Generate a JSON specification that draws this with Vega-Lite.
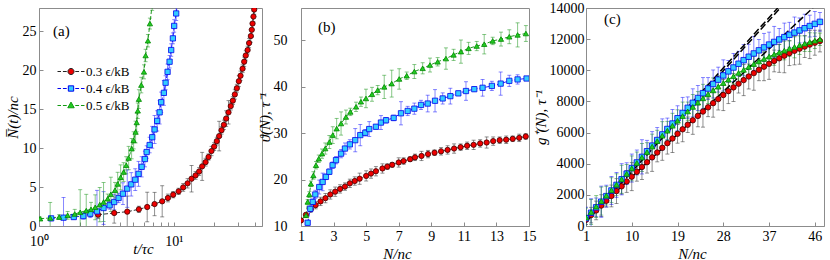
{
  "$schema": "https://vega.github.io/schema/vega-lite/v6.json",
  "padding": {"left": 4, "top": 0, "right": 0, "bottom": 0},
  "spacing": 39,
  "bounds": "flush",
  "config": {
    "font": "Liberation Serif",
    "view": {"stroke": "#8c8c8c", "strokeWidth": 1},
    "style": {"guide-label": {"font": "Liberation Serif"}, "guide-title": {"font": "Liberation Serif"}},
    "axis": {"domainColor": "#8c8c8c", "tickColor": "#8c8c8c", "grid": false, "labelFont": "Liberation Serif", "labelFontSize": 14, "labelColor": "#000", "titleFont": "Liberation Serif", "titleFontSize": 15, "titleFontWeight": "normal", "titleFontStyle": "italic", "titleColor": "#000", "tickSize": -4},
    "axisX": {"labelPadding": 7, "titlePadding": 2, "labelFlush": false},
    "axisY": {"labelPadding": 8, "titlePadding": 2},
    "legend": {"labelFont": "Liberation Serif"},
    "title": {"font": "Liberation Serif", "fontSize": 15, "fontWeight": "normal", "anchor": "start", "frame": "group", "baseline": "alphabetic", "color": "#000"}
  },
  "datasets": {
    "a": [
      {"s":"0.3","x":2.74,"y":1.45,"e":0.5},{"s":"0.3","x":3.61,"y":1.67,"e":1.3},{"s":"0.3","x":4.51,"y":1.84,"e":2.0},{"s":"0.3","x":5.5,"y":2.14,"e":0.4},{"s":"0.3","x":6.34,"y":2.44,"e":1.9},{"s":"0.3","x":7.19,"y":2.82,"e":1.5},{"s":"0.3","x":8.19,"y":3.17,"e":2.0},{"s":"0.3","x":9.03,"y":3.6,"e":0.5},{"s":"0.3","x":9.88,"y":4.02,"e":0.4},{"s":"0.3","x":10.84,"y":4.45,"e":0.4},{"s":"0.3","x":11.72,"y":4.96,"e":0.5},{"s":"0.3","x":12.63,"y":5.48,"e":0.6},{"s":"0.3","x":13.52,"y":6.07,"e":1.7},{"s":"0.3","x":14.48,"y":6.5,"e":0.5},{"s":"0.3","x":15.39,"y":7.0,"e":0.5},{"s":"0.3","x":16.2,"y":7.66,"e":1.8},{"s":"0.3","x":17.17,"y":8.2,"e":0.5},{"s":"0.3","x":18.06,"y":8.86,"e":0.4},{"s":"0.3","x":19.0,"y":9.63,"e":0.6},{"s":"0.3","x":19.89,"y":10.2,"e":0.5},{"s":"0.3","x":20.8,"y":10.9,"e":0.5},{"s":"0.3","x":21.66,"y":11.55,"e":1.9},{"s":"0.3","x":22.55,"y":12.3,"e":0.5},{"s":"0.3","x":23.47,"y":13.0,"e":0.6},{"s":"0.3","x":24.4,"y":13.8,"e":1.0},{"s":"0.3","x":25.4,"y":14.6,"e":1.5},{"s":"0.3","x":26.4,"y":15.4,"e":0.5},{"s":"0.3","x":27.35,"y":16.1,"e":0.5},{"s":"0.3","x":28.3,"y":16.9,"e":0.6},{"s":"0.3","x":29.3,"y":17.7,"e":0.5},{"s":"0.3","x":30.3,"y":18.6,"e":0.7},{"s":"0.3","x":31.2,"y":19.3,"e":0.6},{"s":"0.3","x":32.3,"y":20.2,"e":0.5},{"s":"0.3","x":33.2,"y":21.1,"e":0.6},{"s":"0.3","x":34.1,"y":21.9,"e":0.6},{"s":"0.3","x":35.2,"y":22.6,"e":0.5},{"s":"0.3","x":36.1,"y":23.5,"e":0.6},{"s":"0.3","x":37.2,"y":24.4,"e":0.8},{"s":"0.3","x":37.8,"y":25.2,"e":0.9},{"s":"0.3","x":38.3,"y":26.0,"e":0.8},{"s":"0.3","x":38.9,"y":26.9,"e":0.7},{"s":"0.3","x":39.4,"y":27.8,"e":0.6},{"s":"0.3","x":40.0,"y":28.8,"e":0.6},
      {"s":"0.4","x":1.23,"y":0.98,"e":0.2},{"s":"0.4","x":1.52,"y":1.07,"e":2.6},{"s":"0.4","x":1.81,"y":1.15,"e":0.3},{"s":"0.4","x":2.13,"y":1.28,"e":0.4},{"s":"0.4","x":2.4,"y":1.58,"e":0.5},{"s":"0.4","x":2.69,"y":1.88,"e":2.7},{"s":"0.4","x":3.01,"y":2.31,"e":2.1},{"s":"0.4","x":3.34,"y":2.66,"e":0.5},{"s":"0.4","x":3.61,"y":3.08,"e":1.0},{"s":"0.4","x":3.89,"y":3.6,"e":0.6},{"s":"0.4","x":4.19,"y":4.15,"e":1.4},{"s":"0.4","x":4.51,"y":4.8,"e":2.4},{"s":"0.4","x":4.83,"y":5.35,"e":1.5},{"s":"0.4","x":5.17,"y":5.95,"e":1.4},{"s":"0.4","x":5.47,"y":6.7,"e":1.6},{"s":"0.4","x":5.77,"y":7.6,"e":1.3},{"s":"0.4","x":6.1,"y":8.6,"e":1.0},{"s":"0.4","x":6.28,"y":9.5,"e":0.8},{"s":"0.4","x":6.61,"y":10.4,"e":1.0},{"s":"0.4","x":6.91,"y":11.4,"e":1.4},{"s":"0.4","x":7.19,"y":12.4,"e":1.8},{"s":"0.4","x":7.52,"y":13.5,"e":1.3},{"s":"0.4","x":7.84,"y":14.6,"e":1.5},{"s":"0.4","x":8.05,"y":15.9,"e":1.3},{"s":"0.4","x":8.43,"y":17.1,"e":1.6},{"s":"0.4","x":8.68,"y":18.4,"e":0.9},{"s":"0.4","x":8.98,"y":19.8,"e":1.0},{"s":"0.4","x":9.29,"y":21.1,"e":0.8},{"s":"0.4","x":9.55,"y":22.6,"e":0.8},{"s":"0.4","x":9.83,"y":24.1,"e":0.7},{"s":"0.4","x":10.05,"y":25.7,"e":0.8},{"s":"0.4","x":10.4,"y":27.3,"e":0.9},{"s":"0.4","x":10.7,"y":29.0,"e":0.9},
      {"s":"0.5","x":1.02,"y":0.94,"e":0.2},{"s":"0.5","x":1.21,"y":1.03,"e":2.0},{"s":"0.5","x":1.41,"y":1.15,"e":0.3},{"s":"0.5","x":1.63,"y":1.37,"e":0.5},{"s":"0.5","x":1.84,"y":1.54,"e":0.6},{"s":"0.5","x":2.02,"y":1.76,"e":2.9},{"s":"0.5","x":2.24,"y":1.97,"e":2.1},{"s":"0.5","x":2.43,"y":2.14,"e":0.9},{"s":"0.5","x":2.61,"y":2.4,"e":1.6},{"s":"0.5","x":2.82,"y":2.74,"e":2.2},{"s":"0.5","x":3.01,"y":3.08,"e":2.5},{"s":"0.5","x":3.23,"y":3.5,"e":0.6},{"s":"0.5","x":3.41,"y":4.07,"e":2.2},{"s":"0.5","x":3.66,"y":4.6,"e":1.0},{"s":"0.5","x":3.83,"y":5.4,"e":1.5},{"s":"0.5","x":4.03,"y":6.25,"e":1.6},{"s":"0.5","x":4.24,"y":6.93,"e":1.2},{"s":"0.5","x":4.43,"y":7.8,"e":1.1},{"s":"0.5","x":4.62,"y":8.73,"e":1.5},{"s":"0.5","x":4.86,"y":9.93,"e":1.3},{"s":"0.5","x":5.03,"y":11.0,"e":1.1},{"s":"0.5","x":5.2,"y":12.07,"e":1.4},{"s":"0.5","x":5.3,"y":13.3,"e":1.2},{"s":"0.5","x":5.4,"y":14.8,"e":1.0},{"s":"0.5","x":5.5,"y":16.3,"e":1.2},{"s":"0.5","x":5.73,"y":18.1,"e":1.0},{"s":"0.5","x":6.0,"y":19.8,"e":0.9},{"s":"0.5","x":6.17,"y":21.9,"e":0.8},{"s":"0.5","x":6.42,"y":23.8,"e":0.8},{"s":"0.5","x":6.64,"y":26.0,"e":0.7},{"s":"0.5","x":6.9,"y":28.4,"e":0.7}
    ],
    "b": [
      {"s":"0.3","x":1.0,"y":11.2,"e":0.3},{"s":"0.3","x":1.3,"y":12.4,"e":0.4},{"s":"0.3","x":1.6,"y":13.6,"e":0.6},{"s":"0.3","x":1.9,"y":14.5,"e":0.8},{"s":"0.3","x":2.2,"y":15.3,"e":0.9},{"s":"0.3","x":2.5,"y":16.0,"e":1.0},{"s":"0.3","x":2.8,"y":16.8,"e":1.0},{"s":"0.3","x":3.1,"y":17.4,"e":1.0},{"s":"0.3","x":3.4,"y":18.0,"e":0.9},{"s":"0.3","x":3.7,"y":18.5,"e":0.8},{"s":"0.3","x":4.0,"y":19.2,"e":0.9},{"s":"0.3","x":4.3,"y":19.7,"e":0.9},{"s":"0.3","x":4.6,"y":20.2,"e":1.2},{"s":"0.3","x":5.0,"y":20.8,"e":1.1},{"s":"0.3","x":5.3,"y":21.3,"e":1.0},{"s":"0.3","x":5.6,"y":21.8,"e":1.0},{"s":"0.3","x":6.0,"y":22.4,"e":1.0},{"s":"0.3","x":6.3,"y":22.8,"e":0.6},{"s":"0.3","x":6.6,"y":23.2,"e":0.5},{"s":"0.3","x":7.0,"y":23.7,"e":1.0},{"s":"0.3","x":7.3,"y":24.0,"e":0.7},{"s":"0.3","x":7.7,"y":24.4,"e":0.5},{"s":"0.3","x":8.0,"y":24.8,"e":0.7},{"s":"0.3","x":8.4,"y":25.1,"e":1.0},{"s":"0.3","x":8.8,"y":25.5,"e":0.8},{"s":"0.3","x":9.2,"y":25.8,"e":0.6},{"s":"0.3","x":9.6,"y":26.1,"e":0.8},{"s":"0.3","x":10.0,"y":26.4,"e":0.9},{"s":"0.3","x":10.4,"y":26.7,"e":1.0},{"s":"0.3","x":10.8,"y":27.0,"e":0.7},{"s":"0.3","x":11.2,"y":27.3,"e":0.8},{"s":"0.3","x":11.6,"y":27.5,"e":1.0},{"s":"0.3","x":12.0,"y":27.8,"e":0.8},{"s":"0.3","x":12.4,"y":28.0,"e":1.2},{"s":"0.3","x":12.8,"y":28.3,"e":0.9},{"s":"0.3","x":13.2,"y":28.5,"e":0.7},{"s":"0.3","x":13.6,"y":28.6,"e":0.8},{"s":"0.3","x":14.0,"y":28.8,"e":0.6},{"s":"0.3","x":14.4,"y":29.0,"e":0.8},{"s":"0.3","x":14.8,"y":29.3,"e":0.6},
      {"s":"0.4","x":1.41,"y":10.7,"e":0.5},{"s":"0.4","x":1.57,"y":13.7,"e":0.7},{"s":"0.4","x":1.72,"y":15.2,"e":0.6},{"s":"0.4","x":1.88,"y":16.8,"e":0.9},{"s":"0.4","x":2.12,"y":18.4,"e":1.5},{"s":"0.4","x":2.33,"y":19.5,"e":1.9},{"s":"0.4","x":2.53,"y":20.6,"e":0.6},{"s":"0.4","x":2.74,"y":21.7,"e":0.6},{"s":"0.4","x":2.94,"y":23.1,"e":0.7},{"s":"0.4","x":3.15,"y":24.2,"e":0.8},{"s":"0.4","x":3.46,"y":25.6,"e":0.9},{"s":"0.4","x":3.7,"y":26.7,"e":1.2},{"s":"0.4","x":4.0,"y":27.6,"e":1.0},{"s":"0.4","x":4.33,"y":28.5,"e":2.5},{"s":"0.4","x":4.64,"y":29.6,"e":2.3},{"s":"0.4","x":4.95,"y":30.1,"e":0.7},{"s":"0.4","x":5.19,"y":30.9,"e":1.6},{"s":"0.4","x":5.6,"y":31.4,"e":0.5},{"s":"0.4","x":5.91,"y":32.3,"e":1.5},{"s":"0.4","x":6.22,"y":32.8,"e":0.6},{"s":"0.4","x":6.69,"y":33.3,"e":0.6},{"s":"0.4","x":7.14,"y":34.3,"e":2.5},{"s":"0.4","x":7.55,"y":34.8,"e":1.0},{"s":"0.4","x":7.96,"y":35.3,"e":1.2},{"s":"0.4","x":8.37,"y":36.1,"e":1.0},{"s":"0.4","x":8.78,"y":36.4,"e":1.8},{"s":"0.4","x":9.23,"y":37.0,"e":2.4},{"s":"0.4","x":9.7,"y":37.5,"e":1.2},{"s":"0.4","x":10.17,"y":38.0,"e":1.7},{"s":"0.4","x":10.66,"y":38.6,"e":0.5},{"s":"0.4","x":11.13,"y":39.1,"e":2.0},{"s":"0.4","x":11.64,"y":39.5,"e":0.5},{"s":"0.4","x":12.15,"y":39.8,"e":1.8},{"s":"0.4","x":12.72,"y":40.2,"e":1.0},{"s":"0.4","x":13.26,"y":40.7,"e":2.5},{"s":"0.4","x":13.79,"y":41.3,"e":1.2},{"s":"0.4","x":14.3,"y":41.6,"e":1.0},{"s":"0.4","x":14.85,"y":41.8,"e":0.3},
      {"s":"0.5","x":1.31,"y":12.3,"e":0.4},{"s":"0.5","x":1.41,"y":15.2,"e":0.5},{"s":"0.5","x":1.51,"y":16.8,"e":0.6},{"s":"0.5","x":1.61,"y":19.1,"e":0.6},{"s":"0.5","x":1.76,"y":20.9,"e":0.8},{"s":"0.5","x":1.92,"y":23.1,"e":0.8},{"s":"0.5","x":2.09,"y":24.5,"e":0.8},{"s":"0.5","x":2.29,"y":25.6,"e":1.0},{"s":"0.5","x":2.49,"y":26.7,"e":1.2},{"s":"0.5","x":2.74,"y":28.1,"e":1.4},{"s":"0.5","x":2.95,"y":29.6,"e":1.8},{"s":"0.5","x":3.19,"y":31.0,"e":2.2},{"s":"0.5","x":3.46,"y":32.1,"e":2.5},{"s":"0.5","x":3.76,"y":33.5,"e":1.5},{"s":"0.5","x":4.03,"y":34.6,"e":0.8},{"s":"0.5","x":4.38,"y":35.7,"e":1.0},{"s":"0.5","x":4.68,"y":36.8,"e":1.0},{"s":"0.5","x":4.99,"y":37.5,"e":2.0},{"s":"0.5","x":5.36,"y":38.4,"e":1.5},{"s":"0.5","x":5.71,"y":39.3,"e":1.0},{"s":"0.5","x":6.11,"y":40.0,"e":2.5},{"s":"0.5","x":6.57,"y":40.7,"e":2.9},{"s":"0.5","x":7.03,"y":41.7,"e":2.2},{"s":"0.5","x":7.49,"y":42.4,"e":0.8},{"s":"0.5","x":7.96,"y":43.3,"e":1.5},{"s":"0.5","x":8.47,"y":44.0,"e":1.2},{"s":"0.5","x":8.92,"y":44.7,"e":1.5},{"s":"0.5","x":9.39,"y":45.4,"e":0.9},{"s":"0.5","x":9.9,"y":46.1,"e":2.3},{"s":"0.5","x":10.37,"y":46.9,"e":1.2},{"s":"0.5","x":10.82,"y":47.6,"e":2.5},{"s":"0.5","x":11.29,"y":48.3,"e":1.3},{"s":"0.5","x":11.79,"y":48.8,"e":1.0},{"s":"0.5","x":12.25,"y":49.2,"e":2.1},{"s":"0.5","x":12.77,"y":49.9,"e":0.8},{"s":"0.5","x":13.28,"y":50.3,"e":1.5},{"s":"0.5","x":13.79,"y":50.8,"e":1.5},{"s":"0.5","x":14.3,"y":51.2,"e":2.6},{"s":"0.5","x":14.81,"y":51.5,"e":1.7}
    ],
    "c": [
      {"s":"0.3","x":1,"y":400,"e":300},{"s":"0.3","x":2,"y":700,"e":500},{"s":"0.3","x":3,"y":1000,"e":600},{"s":"0.3","x":4,"y":1310,"e":700},{"s":"0.3","x":5,"y":1620,"e":400},{"s":"0.3","x":6,"y":1930,"e":700},{"s":"0.3","x":7,"y":2240,"e":800},{"s":"0.3","x":8,"y":2550,"e":500},{"s":"0.3","x":9,"y":2860,"e":700},{"s":"0.3","x":10,"y":3170,"e":900},{"s":"0.3","x":11,"y":3480,"e":600},{"s":"0.3","x":12,"y":3790,"e":800},{"s":"0.3","x":13,"y":4100,"e":700},{"s":"0.3","x":14,"y":4410,"e":900},{"s":"0.3","x":15,"y":4720,"e":600},{"s":"0.3","x":16,"y":5020,"e":800},{"s":"0.3","x":17,"y":5320,"e":700},{"s":"0.3","x":18,"y":5620,"e":900},{"s":"0.3","x":19,"y":5920,"e":600},{"s":"0.3","x":20,"y":6210,"e":800},{"s":"0.3","x":21,"y":6500,"e":500},{"s":"0.3","x":22,"y":6790,"e":900},{"s":"0.3","x":23,"y":7070,"e":700},{"s":"0.3","x":24,"y":7350,"e":1000},{"s":"0.3","x":25,"y":7620,"e":600},{"s":"0.3","x":26,"y":7890,"e":900},{"s":"0.3","x":27,"y":8150,"e":700},{"s":"0.3","x":28,"y":8410,"e":1000},{"s":"0.3","x":29,"y":8660,"e":800},{"s":"0.3","x":30,"y":8900,"e":900},{"s":"0.3","x":31,"y":9140,"e":600},{"s":"0.3","x":32,"y":9370,"e":1000},{"s":"0.3","x":33,"y":9600,"e":800},{"s":"0.3","x":34,"y":9820,"e":1100},{"s":"0.3","x":35,"y":10030,"e":700},{"s":"0.3","x":36,"y":10230,"e":900},{"s":"0.3","x":37,"y":10420,"e":1000},{"s":"0.3","x":38,"y":10600,"e":700},{"s":"0.3","x":39,"y":10770,"e":900},{"s":"0.3","x":40,"y":10940,"e":1100},{"s":"0.3","x":41,"y":11100,"e":800},{"s":"0.3","x":42,"y":11250,"e":900},{"s":"0.3","x":43,"y":11390,"e":1000},{"s":"0.3","x":44,"y":11520,"e":700},{"s":"0.3","x":45,"y":11650,"e":900},{"s":"0.3","x":46,"y":11770,"e":800},{"s":"0.3","x":47,"y":11880,"e":700},
      {"s":"0.4","x":1,"y":500,"e":700},{"s":"0.4","x":2,"y":850,"e":900},{"s":"0.4","x":3,"y":1200,"e":600},{"s":"0.4","x":4,"y":1560,"e":1000},{"s":"0.4","x":5,"y":1920,"e":700},{"s":"0.4","x":6,"y":2280,"e":900},{"s":"0.4","x":7,"y":2640,"e":800},{"s":"0.4","x":8,"y":3000,"e":1000},{"s":"0.4","x":9,"y":3360,"e":700},{"s":"0.4","x":10,"y":3720,"e":900},{"s":"0.4","x":11,"y":4080,"e":800},{"s":"0.4","x":12,"y":4440,"e":1100},{"s":"0.4","x":13,"y":4800,"e":700},{"s":"0.4","x":14,"y":5160,"e":900},{"s":"0.4","x":15,"y":5520,"e":800},{"s":"0.4","x":16,"y":5880,"e":1000},{"s":"0.4","x":17,"y":6230,"e":700},{"s":"0.4","x":18,"y":6580,"e":900},{"s":"0.4","x":19,"y":6920,"e":800},{"s":"0.4","x":20,"y":7260,"e":1000},{"s":"0.4","x":21,"y":7590,"e":700},{"s":"0.4","x":22,"y":7910,"e":900},{"s":"0.4","x":23,"y":8220,"e":800},{"s":"0.4","x":24,"y":8530,"e":1000},{"s":"0.4","x":25,"y":8830,"e":700},{"s":"0.4","x":26,"y":9120,"e":900},{"s":"0.4","x":27,"y":9400,"e":800},{"s":"0.4","x":28,"y":9670,"e":1000},{"s":"0.4","x":29,"y":9930,"e":700},{"s":"0.4","x":30,"y":10180,"e":900},{"s":"0.4","x":31,"y":10420,"e":800},{"s":"0.4","x":32,"y":10650,"e":1000},{"s":"0.4","x":33,"y":10870,"e":800},{"s":"0.4","x":34,"y":11080,"e":1100},{"s":"0.4","x":35,"y":11280,"e":700},{"s":"0.4","x":36,"y":11470,"e":900},{"s":"0.4","x":37,"y":11650,"e":800},{"s":"0.4","x":38,"y":11820,"e":1000},{"s":"0.4","x":39,"y":11980,"e":700},{"s":"0.4","x":40,"y":12130,"e":900},{"s":"0.4","x":41,"y":12280,"e":800},{"s":"0.4","x":42,"y":12420,"e":1000},{"s":"0.4","x":43,"y":12560,"e":800},{"s":"0.4","x":44,"y":12700,"e":900},{"s":"0.4","x":45,"y":12840,"e":700},{"s":"0.4","x":46,"y":12980,"e":800},{"s":"0.4","x":47,"y":13110,"e":600},
      {"s":"0.5","x":1,"y":550,"e":600},{"s":"0.5","x":2,"y":900,"e":800},{"s":"0.5","x":3,"y":1250,"e":700},{"s":"0.5","x":4,"y":1600,"e":900},{"s":"0.5","x":5,"y":1950,"e":600},{"s":"0.5","x":6,"y":2300,"e":800},{"s":"0.5","x":7,"y":2650,"e":700},{"s":"0.5","x":8,"y":3000,"e":900},{"s":"0.5","x":9,"y":3350,"e":600},{"s":"0.5","x":10,"y":3700,"e":800},{"s":"0.5","x":11,"y":4050,"e":700},{"s":"0.5","x":12,"y":4400,"e":900},{"s":"0.5","x":13,"y":4750,"e":600},{"s":"0.5","x":14,"y":5100,"e":800},{"s":"0.5","x":15,"y":5450,"e":700},{"s":"0.5","x":16,"y":5800,"e":900},{"s":"0.5","x":17,"y":6120,"e":600},{"s":"0.5","x":18,"y":6440,"e":800},{"s":"0.5","x":19,"y":6760,"e":700},{"s":"0.5","x":20,"y":7060,"e":900},{"s":"0.5","x":21,"y":7360,"e":600},{"s":"0.5","x":22,"y":7650,"e":800},{"s":"0.5","x":23,"y":7930,"e":700},{"s":"0.5","x":24,"y":8200,"e":900},{"s":"0.5","x":25,"y":8460,"e":600},{"s":"0.5","x":26,"y":8710,"e":800},{"s":"0.5","x":27,"y":8950,"e":700},{"s":"0.5","x":28,"y":9180,"e":600},{"s":"0.5","x":29,"y":9400,"e":700},{"s":"0.5","x":30,"y":9620,"e":500},{"s":"0.5","x":31,"y":9830,"e":700},{"s":"0.5","x":32,"y":10030,"e":600},{"s":"0.5","x":33,"y":10220,"e":500},{"s":"0.5","x":34,"y":10400,"e":600},{"s":"0.5","x":35,"y":10570,"e":700},{"s":"0.5","x":36,"y":10730,"e":500},{"s":"0.5","x":37,"y":10880,"e":600},{"s":"0.5","x":38,"y":11020,"e":700},{"s":"0.5","x":39,"y":11150,"e":500},{"s":"0.5","x":40,"y":11270,"e":600},{"s":"0.5","x":41,"y":11390,"e":500},{"s":"0.5","x":42,"y":11500,"e":700},{"s":"0.5","x":43,"y":11610,"e":600},{"s":"0.5","x":44,"y":11710,"e":500},{"s":"0.5","x":45,"y":11810,"e":600},{"s":"0.5","x":46,"y":11900,"e":500},{"s":"0.5","x":47,"y":11990,"e":400}
    ],
    "cl": [
      {"s":"L1","x":1,"y":250},{"s":"L1","x":39.2,"y":14000},
      {"s":"L2","x":1,"y":420},{"s":"L2","x":38.7,"y":14000},
      {"s":"L3","x":1,"y":400},{"s":"L3","x":45.6,"y":14000}
    ]
  },
  "hconcat": [
    {
      "width": 223, "height": 218,
      "title": {"text": "(a)", "offset": -31, "dx": 14},
      "data": {"name": "a"},
      "encoding": {
        "x": {"field": "x", "type": "quantitative", "scale": {"type": "log", "domain": [1, 45]}, "axis": {"values": [1,2,3,4,5,6,7,8,9,10,20,30,40], "labelExpr": "datum.value == 1 ? '10⁰' : datum.value == 10 ? '10¹' : ''", "title": "t/τc", "labelFont": "Liberation Serif", "titleFont": "Liberation Serif", "labelPadding": 12, "titlePadding": -7, "titleX": 104}},
        "y": {"field": "y", "type": "quantitative", "scale": {"domain": [0, 28]}, "axis": {"values": [0,5,10,15,20,25], "title": "N̅(t)/nc", "labelFont": "Liberation Serif", "titleFont": "Liberation Serif", "labelPadding": 7}}
      },
      "layer": [
        {"mark": {"type": "errorbar", "ticks": true, "size": 4, "thickness": 0.9, "clip": true},
         "encoding": {"yError": {"field": "e"}, "color": {"field": "s", "type": "nominal", "scale": {"domain": ["0.3","0.4","0.5"], "range": ["#333333","#2020ff","#229922"]}, "legend": null}, "opacity": {"value": 0.6}}},
        {"mark": {"type": "line", "strokeDash": [4, 2], "strokeWidth": 1, "clip": true},
         "encoding": {"color": {"field": "s", "type": "nominal", "legend": null}}},
        {"mark": {"type": "point", "filled": true, "size": 28, "strokeWidth": 0.8, "opacity": 1, "clip": true},
         "encoding": {
           "shape": {"condition": [{"test": "datum.s === '0.3'", "value": "circle"}, {"test": "datum.s === '0.4'", "value": "square"}], "value": "triangle-up"},
           "fill": {"condition": [{"test": "datum.s === '0.3'", "value": "#ee0000"}, {"test": "datum.s === '0.4'", "value": "#33ccff"}], "value": "#22cc22"},
           "stroke": {"condition": [{"test": "datum.s === '0.3'", "value": "#400000"}, {"test": "datum.s === '0.4'", "value": "#0000ee"}], "value": "#008800"}
         }},
        {"transform": [{"filter": "false"}],
         "mark": {"type": "point", "filled": true},
         "encoding": {
           "x": {"field": "x", "type": "quantitative"},
           "y": {"field": "y", "type": "quantitative"},
           "shape": {"field": "s", "type": "nominal", "scale": {"domain": ["0.3","0.4","0.5"], "range": [
             "M-1.42,0H-1.05M-0.85,0H-0.45M0.45,0H0.85M1.05,0H1.42M-0.32,0A0.32,0.32,0,1,1,0.32,0A0.32,0.32,0,1,1,-0.32,0Z",
             "M-1.42,0H-1.05M-0.85,0H-0.45M0.45,0H0.85M1.05,0H1.42M-0.28,-0.28H0.28V0.28H-0.28Z",
             "M-1.42,0H-1.05M-0.85,0H-0.45M0.45,0H0.85M1.05,0H1.42M0,-0.36L0.34,0.24H-0.34Z"]},
             "legend": {"orient": "none", "legendX": 22, "legendY": 53.5, "title": null, "symbolSize": 361, "symbolStrokeWidth": 1, "symbolOpacity": 1, "labelFont": "Liberation Serif", "labelFontSize": 13, "labelOffset": 5, "labelExpr": "datum.label + ' ϵ/kB'", "padding": 0, "rowPadding": 0}},
           "fill": {"field": "s", "type": "nominal", "scale": {"domain": ["0.3","0.4","0.5"], "range": ["#ee0000","#33ccff","#22cc22"]}},
           "stroke": {"field": "s", "type": "nominal", "scale": {"domain": ["0.3","0.4","0.5"], "range": ["#222222","#0000ee","#119911"]}}
         }}
      ]
    },
    {
      "spacing": 57,
      "bounds": "flush",
      "hconcat": [
        {
          "width": 228, "height": 218,
          "title": {"text": "(b)", "offset": -27, "dx": 17},
          "data": {"name": "b"},
          "encoding": {
            "x": {"field": "x", "type": "quantitative", "scale": {"domain": [1, 15]}, "axis": {"values": [1,3,5,7,9,11,13,15], "title": "N/nc", "labelFont": "Liberation Serif", "titleFont": "Liberation Serif", "titlePadding": 3, "titleX": 96}},
            "y": {"field": "y", "type": "quantitative", "scale": {"domain": [10, 57]}, "axis": {"values": [10,20,30,40,50], "title": "ϑ(N), τ⁻¹", "labelFont": "Liberation Serif", "titleFont": "Liberation Serif", "labelPadding": 18, "titlePadding": 1}}
          },
          "layer": [
            {"mark": {"type": "errorbar", "ticks": true, "size": 4, "thickness": 0.9, "clip": true},
             "encoding": {"yError": {"field": "e"}, "color": {"field": "s", "type": "nominal", "scale": {"domain": ["0.3","0.4","0.5"], "range": ["#333333","#2020ff","#229922"]}, "legend": null}, "opacity": {"value": 0.6}}},
            {"mark": {"type": "line", "strokeDash": [4, 2], "strokeWidth": 1, "clip": true},
             "encoding": {"color": {"field": "s", "type": "nominal", "legend": null}}},
            {"mark": {"type": "point", "filled": true, "size": 28, "strokeWidth": 0.8, "opacity": 1, "clip": true},
             "encoding": {
               "shape": {"condition": [{"test": "datum.s === '0.3'", "value": "circle"}, {"test": "datum.s === '0.4'", "value": "square"}], "value": "triangle-up"},
               "fill": {"condition": [{"test": "datum.s === '0.3'", "value": "#ee0000"}, {"test": "datum.s === '0.4'", "value": "#33ccff"}], "value": "#22cc22"},
               "stroke": {"condition": [{"test": "datum.s === '0.3'", "value": "#400000"}, {"test": "datum.s === '0.4'", "value": "#0000ee"}], "value": "#008800"}
             }}
          ]
        },
        {
          "width": 238, "height": 218,
          "title": {"text": "(c)", "offset": -26, "dx": 18},
          "encoding": {
            "x": {"field": "x", "type": "quantitative", "scale": {"domain": [1, 47.8]}, "axis": {"values": [1,10,19,28,37,46], "title": "N/nc", "labelFont": "Liberation Serif", "titleFont": "Liberation Serif", "titlePadding": 3, "titleX": 106}},
            "y": {"field": "y", "type": "quantitative", "scale": {"domain": [0, 14000]}, "axis": {"values": [0,2000,4000,6000,8000,10000,12000,14000], "format": "d", "title": "g⁺(N), τ⁻¹", "labelFont": "Liberation Serif", "titleFont": "Liberation Serif", "labelPadding": 6, "titlePadding": 1}}
          },
          "layer": [
            {"data": {"name": "c"},
             "mark": {"type": "errorbar", "ticks": true, "size": 4, "thickness": 0.9, "clip": true},
             "encoding": {"yError": {"field": "e"}, "color": {"field": "s", "type": "nominal", "scale": {"domain": ["0.3","0.4","0.5","L1","L2","L3"], "range": ["#333333","#2020ff","#229922","#000000","#000000","#000000"]}, "legend": null}, "opacity": {"value": 0.6}}},
            {"data": {"name": "c"},
             "mark": {"type": "line", "strokeDash": [4, 2], "strokeWidth": 1, "clip": true},
             "encoding": {"color": {"field": "s", "type": "nominal", "legend": null}}},
            {"data": {"name": "cl"},
             "mark": {"type": "line", "strokeDash": [7, 3], "strokeWidth": 1.5, "clip": true, "color": "#000000"},
             "encoding": {"detail": {"field": "s", "type": "nominal"}}},
            {"data": {"name": "c"},
             "mark": {"type": "point", "filled": true, "size": 30, "strokeWidth": 0.8, "opacity": 1, "clip": true},
             "encoding": {
               "shape": {"condition": [{"test": "datum.s === '0.3'", "value": "circle"}, {"test": "datum.s === '0.4'", "value": "square"}], "value": "triangle-up"},
               "fill": {"condition": [{"test": "datum.s === '0.3'", "value": "#ee0000"}, {"test": "datum.s === '0.4'", "value": "#33ccff"}], "value": "#22cc22"},
               "stroke": {"condition": [{"test": "datum.s === '0.3'", "value": "#400000"}, {"test": "datum.s === '0.4'", "value": "#0000ee"}], "value": "#008800"}
             }}
          ]
        }
      ]
    }
  ]
}
